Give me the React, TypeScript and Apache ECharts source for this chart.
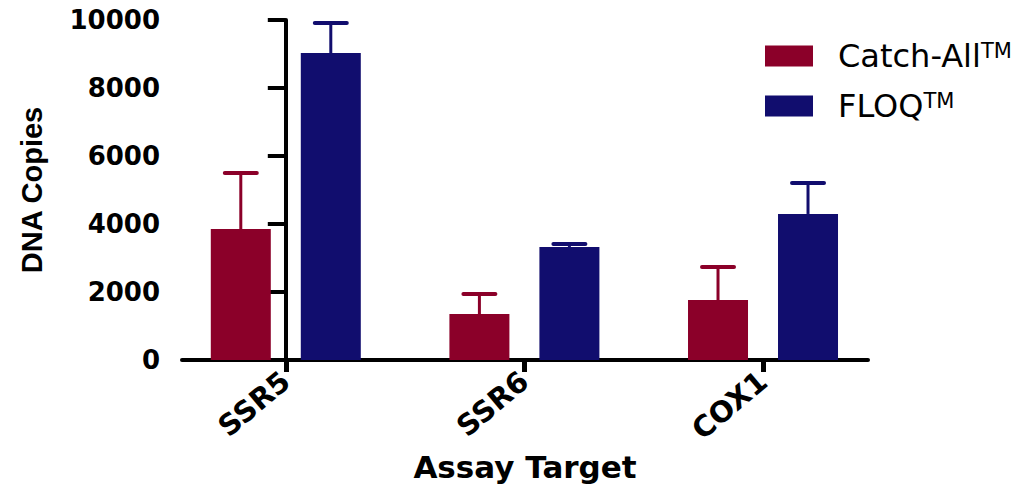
import React, { useEffect, useRef } from 'react';
import * as echarts from 'echarts';

const categories = ['SSR5', 'SSR6', 'COX1'];
const seriesNames = ['Catch-All', 'FLOQ'];
const catchAllMean = [3850, 1350, 1765];
const catchAllErr = [1650, 590, 970];
const floqMean = [9030, 3325, 4295];
const floqErr = [880, 85, 910];
const yMin = 0;
const yMax = 10000;
const yInterval = 2000;
const categoryPositions = [0, 1, 2];
const colors = ['#8b0029', '#110d6e'];

const BAR_W = 60;
const GAP_RATIO = 0.5;

export default function App() {
  const ref = useRef<HTMLDivElement>(null);
  useEffect(() => {
    document.body.style.margin = '0';
    const chart = echarts.init(ref.current!, null, { renderer: 'svg' });
    const offsetPx = (BAR_W + BAR_W * GAP_RATIO) / 2;
    const errSeries = (name: string, means: number[], errs: number[], color: string, dir: number) => ({
      type: 'custom',
      name,
      z: 3,
      silent: true,
      encode: { x: 0, y: [1, 2] },
      data: means.map((m, i) => [categoryPositions[i], m, m + errs[i]]),
      renderItem: (params: any, api: any) => {
        const x = api.value(0);
        const lo = api.value(1);
        const hi = api.value(2);
        const p0 = api.coord([x, lo]);
        const p1 = api.coord([x, hi]);
        const cx = p0[0] + dir * offsetPx;
        return {
          type: 'group',
          children: [
            { type: 'line', shape: { x1: cx, y1: p0[1], x2: cx, y2: p1[1] }, style: { stroke: color, lineWidth: 3 } },
            { type: 'line', shape: { x1: cx - 16, y1: p1[1], x2: cx + 16, y2: p1[1] }, style: { stroke: color, lineWidth: 4, lineCap: 'round' } },
          ],
        };
      },
    });
    const labelFont = { fontFamily: 'DejaVu Sans', fontWeight: 'bold' as const, color: '#000' };
    chart.setOption({
      animation: false,
      backgroundColor: '#fff',
      grid: { left: 182, right: 162, top: 20, bottom: 129, containLabel: false, outerBoundsMode: 'none' },
      legend: {
        orient: 'vertical',
        left: 760,
        top: 35,
        itemWidth: 48,
        itemHeight: 21,
        itemGap: 18,
        icon: 'rect',
        data: seriesNames,
        formatter: (name: string) => `{n|${name}}{s|TM}`,
        textStyle: {
          rich: {
            n: { fontFamily: 'DejaVu Sans', fontSize: 32, lineHeight: 31, color: '#000', padding: [0, 0, 0, 20] },
            s: { fontFamily: 'DejaVu Sans', fontSize: 21, lineHeight: 16, color: '#000', verticalAlign: 'top' },
          },
        },
      },
      xAxis: {
        type: 'value',
        min: -0.435,
        max: 2.44,
        name: 'Assay Target',
        nameLocation: 'middle',
        nameGap: 90,
        nameTextStyle: { ...labelFont, fontSize: 31 },
        splitLine: { show: false },
        axisLine: { show: true, onZero: false, lineStyle: { color: '#000', width: 4 } },
        axisTick: { show: true, customValues: categoryPositions, length: 12, lineStyle: { color: '#000', width: 5 } },
        axisLabel: {
          customValues: categoryPositions,
          formatter: (v: number) => categories[Math.round(v)] ?? '',
          rotate: 40,
          margin: 17,
          fontSize: 29,
          ...labelFont,
        },
      },
      yAxis: {
        type: 'value',
        min: yMin,
        max: yMax,
        interval: yInterval,
        name: 'DNA Copies',
        nameLocation: 'middle',
        nameGap: 136,
        nameTextStyle: { fontFamily: 'Liberation Sans', fontWeight: 'bold', fontSize: 29, color: '#000' },
        splitLine: { show: false },
        axisLine: { show: true, lineStyle: { color: '#000', width: 4 } },
        axisTick: { show: true, length: 18, lineStyle: { color: '#000', width: 4 } },
        axisLabel: { margin: 22, fontSize: 26, ...labelFont, formatter: (v: number) => String(v) },
      },
      series: [
        {
          type: 'bar',
          name: seriesNames[0],
          barWidth: BAR_W,
          barGap: `${GAP_RATIO * 100}%`,
          itemStyle: { color: colors[0] },
          data: catchAllMean.map((v, i) => [categoryPositions[i], v]),
        },
        {
          type: 'bar',
          name: seriesNames[1],
          barWidth: BAR_W,
          barGap: `${GAP_RATIO * 100}%`,
          itemStyle: { color: colors[1] },
          data: floqMean.map((v, i) => [categoryPositions[i], v]),
        },
        errSeries('err-ca', catchAllMean, catchAllErr, colors[0], -1),
        errSeries('err-floq', floqMean, floqErr, colors[1], 1),
      ],
    });
    return () => chart.dispose();
  }, []);
  return <div ref={ref} style={{ width: 1030, height: 489 }} />;
}
